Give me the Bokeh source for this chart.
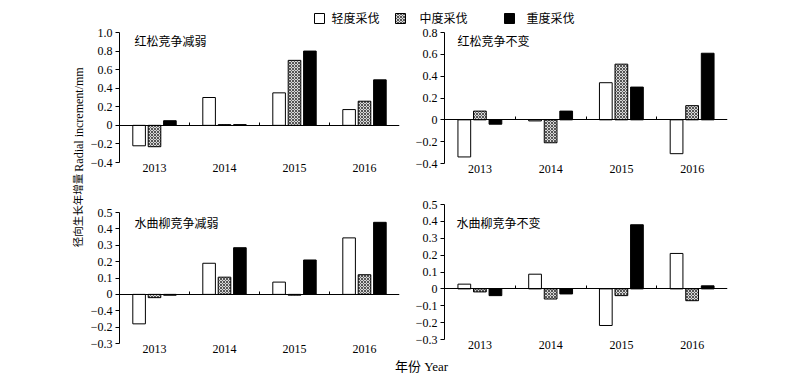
import math
from bokeh.plotting import figure
from bokeh.models import Range1d, FixedTicker, LinearAxis, ColumnDataSource
from bokeh.layouts import column, row
from bokeh.transform import dodge
from bokeh.core.properties import value
from bokeh.embed import file_html
from bokeh.resources import INLINE

years = ["2013", "2014", "2015", "2016"]
series = ["轻度采伐", "中度采伐", "重度采伐"]
titles = ["红松竞争减弱", "红松竞争不变", "水曲柳竞争减弱", "水曲柳竞争不变"]
y_title_cn = "径向生长年增量"
y_title_en = "Radial increment/mm"
x_title = "年份 Year"

# Panel 1: 红松竞争减弱
p1_light = [-0.22, 0.30, 0.35, 0.17]
p1_mid = [-0.23, 0.008, 0.70, 0.26]
p1_heavy = [0.05, 0.008, 0.80, 0.49]
p1_ticks = [1.0, 0.8, 0.6, 0.4, 0.2, 0.0, -0.2, -0.4]
p1_labels = ["1.0", "0.8", "0.6", "0.4", "0.2", "0", "−0.2", "−0.4"]

# Panel 2: 红松竞争不变
p2_light = [-0.34, -0.01, 0.34, -0.31]
p2_mid = [0.08, -0.21, 0.51, 0.13]
p2_heavy = [-0.04, 0.08, 0.30, 0.61]
p2_ticks = [0.8, 0.6, 0.4, 0.2, 0.0, -0.2, -0.4]
p2_labels = ["0.8", "0.6", "0.4", "0.2", "0", "−0.2", "−0.4"]

# Panel 3: 水曲柳竞争减弱
p3_light = [-0.18, 0.19, 0.075, 0.345]
p3_mid = [-0.02, 0.105, -0.005, 0.12]
p3_heavy = [-0.005, 0.285, 0.21, 0.44]
p3_ticks = [0.5, 0.4, 0.3, 0.2, 0.1, 0.0, -0.1, -0.2, -0.3]
p3_labels = ["0.5", "0.4", "0.3", "0.2", "0.1", "0", "−0.4", "−0.2", "−0.3"]

# Panel 4: 水曲柳竞争不变
p4_light = [0.028, 0.087, -0.217, 0.21]
p4_mid = [-0.018, -0.06, -0.04, -0.07]
p4_heavy = [-0.04, -0.03, 0.38, 0.018]
p4_ticks = [0.5, 0.4, 0.3, 0.2, 0.1, 0.0, -0.1, -0.2, -0.3]
p4_labels = ["0.5", "0.4", "0.3", "0.2", "0.1", "0", "−0.1", "−0.2", "−0.3"]

SERIF = "Liberation Serif"
SERIF_V = value("Liberation Serif")
CJK = value("Noto Sans CJK SC")
MIXED = value("Liberation Serif, Noto Sans CJK SC")
MID_FILL = dict(fill_color="#d8d8d8", hatch_pattern="diagonal_cross", hatch_scale=3,
                hatch_color="#555555", hatch_weight=1)

# category slot centres on a numeric axis (one unit per year)
centers = [i + 0.5 for i in range(len(years))]
bounds = list(range(1, len(years)))


def panel(title, light, mid, heavy, ticks, labels, width, height, bl, br, bt, bb, tx, ty):
    src = ColumnDataSource(dict(x=centers, light=light, mid=mid, heavy=heavy))
    p = figure(x_range=Range1d(0, len(years)), y_range=Range1d(min(ticks), max(ticks)),
               width=width, height=height, output_backend="svg", toolbar_location=None,
               min_border_left=bl, min_border_right=br, min_border_top=bt, min_border_bottom=bb)
    p.xgrid.visible = False
    p.ygrid.visible = False
    p.outline_line_color = None

    p.vbar(x=dodge("x", -0.22), top="light", width=0.18, source=src,
           fill_color="white", line_color="black", line_width=1)
    p.vbar(x=dodge("x", 0.0), top="mid", width=0.18, source=src,
           line_color="black", line_width=1, **MID_FILL)
    p.vbar(x=dodge("x", 0.22), top="heavy", width=0.18, source=src,
           fill_color="black", line_color="black", line_width=1)

    xa = p.xaxis[0]
    xa.ticker = FixedTicker(ticks=centers)
    xa.major_label_overrides = dict(zip(centers, years))
    xa.axis_line_color = None
    xa.major_tick_line_color = None
    xa.minor_tick_line_color = None
    xa.major_tick_out = 0
    xa.major_tick_in = 0
    xa.major_label_standoff = 1
    xa.major_label_text_font = SERIF
    xa.major_label_text_font_size = "12px"
    xa.major_label_text_color = "black"

    ya = p.yaxis[0]
    ya.ticker = FixedTicker(ticks=ticks)
    ya.major_label_overrides = dict(zip(ticks, labels))
    ya.axis_line_color = "black"
    ya.major_tick_line_color = "black"
    ya.major_tick_out = 4
    ya.major_tick_in = 0
    ya.minor_tick_line_color = None
    ya.major_label_standoff = 3
    ya.major_label_text_font = SERIF
    ya.major_label_text_font_size = "12px"
    ya.major_label_text_color = "black"

    # zero line with small upward ticks between the year slots
    za = LinearAxis(fixed_location=0, ticker=FixedTicker(ticks=bounds),
                    major_tick_out=3, major_tick_in=0, minor_tick_line_color=None,
                    major_label_text_font_size="0px", major_label_text_color=None,
                    major_label_standoff=0,
                    axis_line_color="black", major_tick_line_color="black")
    p.add_layout(za, "above")

    p.text(x=[0], y=[max(ticks)], text=[title], x_offset=tx, y_offset=ty,
           text_font=CJK, text_font_size="12px", text_baseline="middle", text_align="left",
           text_color="black")
    return p


tl = panel(titles[0], p1_light, p1_mid, p1_heavy, p1_ticks, p1_labels, 325, 153, 35, 10, 7, 16, 15, 8)
tr = panel(titles[1], p2_light, p2_mid, p2_heavy, p2_ticks, p2_labels, 328, 153, 35, 10, 7, 15, 13, 8)
bl = panel(titles[2], p3_light, p3_mid, p3_heavy, p3_ticks, p3_labels, 325, 181, 35, 10, 34, 16, 15, 10)
br = panel(titles[3], p4_light, p4_mid, p4_heavy, p4_ticks, p4_labels, 328, 181, 35, 10, 26, 20, 12, 18)


def blank(w, h):
    f = figure(width=w, height=h, x_range=Range1d(0, w), y_range=Range1d(0, h),
               output_backend="svg", toolbar_location=None, x_axis_type=None, y_axis_type=None,
               min_border_left=0, min_border_right=0, min_border_top=0, min_border_bottom=0)
    f.xgrid.visible = False
    f.ygrid.visible = False
    f.outline_line_color = None
    return f


# Legend strip
lg = blank(784, 25)
lg.rect(x=[319], y=[7], width=10, height=10, fill_color="white", line_color="black")
lg.rect(x=[400], y=[7], width=10, height=10, line_color="black", **MID_FILL)
lg.rect(x=[509], y=[7], width=10, height=10, fill_color="black", line_color="black")
lg.text(x=[331, 419, 526], y=[8, 8, 8], text=series, text_font=CJK, text_font_size="12px",
        text_baseline="middle", text_align="left", text_color="black")

# Y title strip
yl = blank(84, 334)
yl.text(x=[78], y=[240], text=[y_title_en], angle=math.pi / 2, text_font=SERIF_V,
        text_font_size="12px", text_baseline="middle", text_align="center", text_color="black")
yl.text(x=[77], y=[149], text=[y_title_cn], angle=math.pi / 2, text_font=CJK,
        text_font_size="10.5px", text_baseline="middle", text_align="center", text_color="black")

# X title strip
xl = blank(784, 17)
xl.text(x=[421], y=[10], text=[x_title], text_font=MIXED, text_font_size="13px",
        text_baseline="middle", text_align="center", text_color="black")

# each panel wrapped separately so that neighbouring frames are not forced to align
grid = column(row(column(tl), column(tr)), row(column(bl), column(br)))
layout = column(lg, row(yl, grid), xl)

open("out.html", "w").write(file_html(layout, INLINE))
